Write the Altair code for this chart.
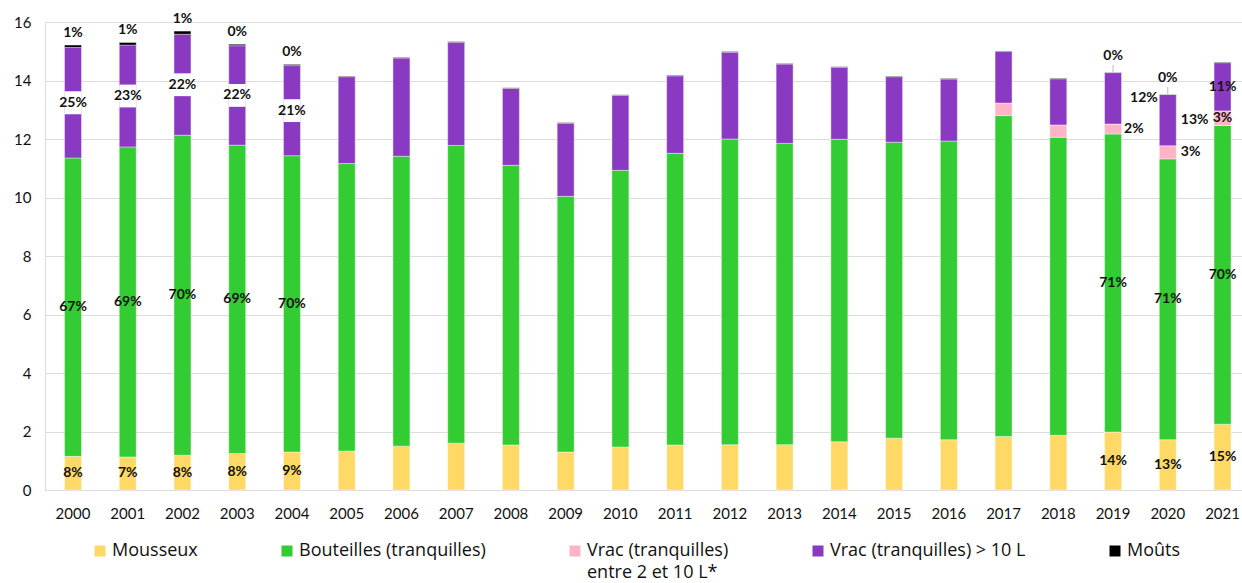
import altair as alt
import pandas as pd

FONT = "Lato"
LEGEND_FONT = "Open Sans"

years = [str(y) for y in range(2000, 2022)]

# Volumes per product, stacked bottom to top
mousseux = [1.15, 1.13, 1.19, 1.25, 1.30, 1.33, 1.50, 1.60, 1.54, 1.30, 1.47,
            1.54, 1.55, 1.55, 1.65, 1.77, 1.72, 1.83, 1.87, 1.98, 1.72, 2.25]
bouteilles = [10.20, 10.60, 10.94, 10.54, 10.13, 9.83, 9.91, 10.18, 9.56, 8.74, 9.46,
              9.97, 10.45, 10.30, 10.34, 10.12, 10.21, 10.97, 10.19, 10.19, 9.60, 10.21]
vrac_2_10 = [0, 0, 0, 0, 0, 0, 0, 0, 0, 0, 0,
             0, 0, 0, 0, 0, 0, 0.43, 0.42, 0.34, 0.45, 0.50]
vrac_10 = [3.78, 3.48, 3.45, 3.40, 3.08, 2.97, 3.36, 3.53, 2.63, 2.50, 2.56,
           2.65, 2.97, 2.71, 2.46, 2.24, 2.12, 1.76, 1.58, 1.76, 1.75, 1.65]
mouts = [0.08, 0.09, 0.11, 0.05, 0.04, 0.02, 0.02, 0.02, 0.02, 0.02, 0.02,
         0.02, 0.02, 0.02, 0.02, 0.02, 0.02, 0.02, 0.02, 0.01, 0.01, 0.02]

series_names = [
    "Mousseux",
    "Bouteilles (tranquilles)",
    "Vrac (tranquilles) entre 2 et 10 L*",
    "Vrac (tranquilles) > 10 L",
    "Moûts",
]
series_colors = ["#FFD966", "#33CC33", "#FFB3C7", "#8A3AC2", "#000000"]
series_values = [mousseux, bouteilles, vrac_2_10, vrac_10, mouts]

y_ticks = [0, 2, 4, 6, 8, 10, 12, 14, 16]

# Which share labels are printed, and how
early = ["2000", "2001", "2002", "2003", "2004"]
center_labels = ([(y, 0) for y in early + ["2019", "2020", "2021"]]
                 + [(y, 1) for y in early + ["2019", "2020", "2021"]]
                 + [("2021", 2), ("2021", 3)])
boxed_labels = [(y, 3) for y in early]
side_labels = [("2019", 2, 11), ("2019", 3, 17), ("2020", 2, 13), ("2020", 3, 13)]
top_labels = [(y, 4) for y in early]
top_labels_leader = [("2019", 4), ("2020", 4)]

# Stack the series and compute each segment's share of the year total
rows = []
for i, yr in enumerate(years):
    total = sum(v[i] for v in series_values)
    base = 0.0
    for k, name in enumerate(series_names):
        v = series_values[k][i]
        rows.append(dict(year=yr, series=name, k=k, value=v, y0=base, y1=base + v,
                         mid=base + v / 2, total=total,
                         pct=f"{round(100 * v / total)}%"))
        base += v
df = pd.DataFrame(rows)


def pick(pairs):
    keys = {(p[0], p[1]) for p in pairs}
    return df[[(r.year, r.k) in keys for r in df.itertuples()]].copy()


x_enc = alt.X(
    "year:N",
    sort=years,
    scale=alt.Scale(paddingInner=0.69, paddingOuter=0.2786, align=0.64),
    axis=alt.Axis(title=None, ticks=False, domain=False, labelAngle=0,
                  labelFontSize=15, labelPadding=16, labelColor="#111111",
                  labelFont=FONT),
)

# Legend labels: the small-bulk entry wraps onto two lines; every entry gets two
# lines so all symbols sit on the same row.
legend_label_expr = (
    "datum.label == 'Vrac (tranquilles) entre 2 et 10 L*' ? "
    "['Vrac (tranquilles)', 'entre 2 et 10 L*'] : "
    "[datum.label, '']"
)

legend = alt.Legend(
    title=None, orient="none", legendX=46, legendY=520, direction="horizontal",
    symbolType="square", symbolSize=121, symbolStrokeWidth=0,
    labelFontSize=18, labelFont=LEGEND_FONT, labelColor="#111111", labelOffset=3,
    columnPadding=80, labelLimit=500, labelExpr=legend_label_expr,
)

bars = alt.Chart(df[df.value > 0]).mark_bar(
    stroke="white", strokeWidth=0.8, strokeOpacity=0.5
).encode(
    x=x_enc,
    y=alt.Y("y0:Q", scale=alt.Scale(domain=[0, 16], nice=False),
            axis=alt.Axis(title=None, values=y_ticks, ticks=False, domain=False,
                          gridColor="#DCDCDC", gridWidth=1.2, labelFontSize=15,
                          labelPadding=14, labelColor="#111111", labelFont=FONT)),
    y2="y1:Q",
    color=alt.Color("series:N", scale=alt.Scale(domain=series_names, range=series_colors),
                    legend=legend),
)

text_style = dict(font=FONT, fontSize=14, fontWeight="bold", color="#111111",
                  baseline="middle")

center_txt = alt.Chart(pick(center_labels)).mark_text(align="center", **text_style).encode(
    x=alt.X("year:N", sort=years), y="mid:Q", text="pct:N")

boxed = pick(boxed_labels)
boxed["lo"] = boxed["mid"] - 0.39
boxed["hi"] = boxed["mid"] + 0.39
label_boxes = alt.Chart(boxed).mark_bar(color="white").encode(
    x=alt.X("year:N", sort=years), y="lo:Q", y2="hi:Q")
boxed_txt = alt.Chart(boxed).mark_text(align="center", **text_style).encode(
    x=alt.X("year:N", sort=years), y="mid:Q", text="pct:N")

side_layers = []
for yr, k, dx in side_labels:
    side_layers.append(
        alt.Chart(pick([(yr, k)])).mark_text(align="left", dx=dx, **text_style).encode(
            x=alt.X("year:N", sort=years), y="mid:Q", text="pct:N"))

top_txt = alt.Chart(pick(top_labels)).mark_text(align="center", dy=-12, **text_style).encode(
    x=alt.X("year:N", sort=years), y="total:Q", text="pct:N")

lead = pick(top_labels_leader)
lead["tip"] = lead["total"] + 0.25
leaders = alt.Chart(lead).mark_rule(color="#BBBBBB", strokeWidth=1).encode(
    x=alt.X("year:N", sort=years), y="total:Q", y2="tip:Q")
lead_txt = alt.Chart(lead).mark_text(align="center", dy=-16.5, **text_style).encode(
    x=alt.X("year:N", sort=years), y="total:Q", text="pct:N")

chart = alt.layer(
    bars, label_boxes, center_txt, boxed_txt, *side_layers, top_txt, leaders, lead_txt
).properties(
    width=1197, height=468,
    autosize=alt.AutoSizeParams(type="none"),
    padding={"left": 45, "top": 22, "right": 0, "bottom": 93},
).configure_view(stroke=None).configure(
    font=FONT, style={"guide-label": {"lineHeight": 22}}
)

chart.save("out.html", embed_options={"renderer": "svg", "actions": False})
